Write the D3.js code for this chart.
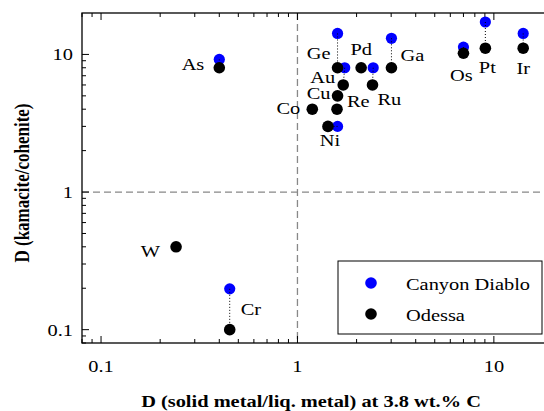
<!DOCTYPE html>
<html>
<head>
<meta charset="utf-8">
<script src="https://cdn.jsdelivr.net/npm/d3@7"></script>
<style>
  body { margin: 0; background: #fff; }
  svg { display: block; font-family: "Liberation Serif", "Times New Roman", serif; }
</style>
</head>
<body>
<svg id="chart" width="544" height="411"></svg>
<script>
// elements and partition coefficients
const elements = ["As", "Ge", "Pd", "Ga", "Au", "Cu", "Re", "Ru", "Co", "Ni", "Os", "Pt", "Ir", "W", "Cr"];
// D (solid metal / liq. metal) at 3.8 wt.% C
const xOdessa = [0.40, 1.60, 2.11, 3.01, 1.71, 1.60, 1.59, 2.41, 1.19, 1.43, 7.0, 9.05, 14.1, 0.241, 0.452];
const xCanyon = [0.40, 1.60, null, 3.01, 1.74, null, null, 2.43, null, 1.60, 7.0, 9.05, 14.1, null, 0.452];
// D (kamacite / cohenite)
const yOdessa = [8.0, 8.0, 8.0, 8.0, 6.0, 5.0, 4.0, 6.0, 4.0, 3.0, 10.2, 11.1, 11.1, 0.40, 0.10];
const yCanyon = [9.2, 14.2, null, 13.1, 8.0, null, null, 8.0, null, 3.0, 11.3, 17.2, 14.2, null, 0.198];

const seriesNames = ["Canyon Diablo", "Odessa"];
const seriesColors = ["#0000ff", "#000000"];

// label placement relative to Odessa point: [anchor, dx, dy]
const labelPos = {
  As: ["end", -15, 2], Ge: ["end", -7, -9], Pd: ["middle", 0, -13], Ga: ["start", 9, -7],
  Au: ["end", -8, -2], Cu: ["end", -7, 3], Re: ["start", 10, -2], Ru: ["start", 5, 20],
  Co: ["end", -12, 5], Ni: ["middle", 2, 20], Os: ["middle", -2, 28], Pt: ["middle", 2, 25],
  Ir: ["middle", 0, 26], W: ["end", -16, 10], Cr: ["start", 11, -15]
};

const svg = d3.select("#chart");
const sx = 1.2; // horizontal stretch of text in the original

const mLeft = 82, mTop = 13, mBottom = 343, mRight = 553;
const x = d3.scaleLog().domain([0.08, 20]).range([mLeft, mRight]);
const y = d3.scaleLog().domain([0.08, 20]).range([mBottom, mTop]);

function label(g, tx, ty, str, anchor, size, weight) {
  g.append("text")
    .attr("transform", `translate(${tx},${ty}) scale(${sx},1)`)
    .attr("text-anchor", anchor)
    .attr("font-size", size)
    .attr("font-weight", weight || "normal")
    .attr("fill", "#000")
    .text(str);
}

// dashed reference lines at D = 1
svg.append("line").attr("x1", x(1)).attr("x2", x(1)).attr("y1", mTop).attr("y2", mBottom)
  .attr("stroke", "#888").attr("stroke-width", 1.3).attr("stroke-dasharray", "7,4");
svg.append("line").attr("x1", mLeft).attr("x2", mRight).attr("y1", y(1)).attr("y2", y(1))
  .attr("stroke", "#888").attr("stroke-width", 1.3).attr("stroke-dasharray", "7,4");

// ticks
const major = [0.1, 1, 10];
const minor = [];
[0.01, 0.1, 1, 10].forEach(d => { for (let k = 2; k <= 9; k++) minor.push(d * k); });
const xMinor = minor.filter(v => v >= 0.08 && v <= 20);
const yMinor = minor.filter(v => v >= 0.08 && v < 20);

const ticks = svg.append("g").attr("stroke", "#000").attr("stroke-width", 1);
major.forEach(v => {
  ticks.append("line").attr("x1", x(v)).attr("x2", x(v)).attr("y1", mBottom).attr("y2", mBottom - 7);
  ticks.append("line").attr("x1", x(v)).attr("x2", x(v)).attr("y1", mTop).attr("y2", mTop + 7);
  ticks.append("line").attr("x1", mLeft).attr("x2", mLeft + 7).attr("y1", y(v)).attr("y2", y(v));
});
xMinor.forEach(v => {
  ticks.append("line").attr("x1", x(v)).attr("x2", x(v)).attr("y1", mBottom).attr("y2", mBottom - 4);
  ticks.append("line").attr("x1", x(v)).attr("x2", x(v)).attr("y1", mTop).attr("y2", mTop + 4);
});
yMinor.forEach(v => {
  ticks.append("line").attr("x1", mLeft).attr("x2", mLeft + 4).attr("y1", y(v)).attr("y2", y(v));
});

// frame
svg.append("rect").attr("x", mLeft).attr("y", mTop).attr("width", mRight - mLeft).attr("height", mBottom - mTop)
  .attr("fill", "none").attr("stroke", "#000").attr("stroke-width", 1.3);

// tick labels
const fmt = v => v < 1 ? "0.1" : String(v);
const tl = svg.append("g");
major.forEach(v => {
  label(tl, x(v), 372, fmt(v), "middle", 17);
  label(tl, mLeft - 9, y(v) + 6, fmt(v), "end", 17);
});

// axis titles
label(svg, 311, 407, "D (solid metal/liq. metal) at 3.8 wt.% C", "middle", 17, "bold");
svg.append("text")
  .attr("transform", `translate(29,${(mTop + mBottom) / 2 + 5}) scale(${sx},1) rotate(-90)`)
  .attr("text-anchor", "middle").attr("font-size", 17).attr("font-weight", "bold")
  .text("D (kamacite/cohenite)");

// data
const rows = elements.map((e, i) => ({
  el: e, xc: xCanyon[i], yc: yCanyon[i], xo: xOdessa[i], yo: yOdessa[i]
}));

svg.append("g").selectAll("circle")
  .data(rows.filter(d => d.yc != null))
  .join("circle")
  .attr("cx", d => x(d.xc)).attr("cy", d => y(d.yc)).attr("r", 5.6)
  .attr("fill", seriesColors[0]);

svg.append("g").selectAll("line")
  .data(rows.filter(d => d.yc != null))
  .join("line")
  .attr("x1", d => x(d.xc)).attr("y1", d => y(d.yc))
  .attr("x2", d => x(d.xo)).attr("y2", d => y(d.yo))
  .attr("stroke", "#000").attr("stroke-width", 1).attr("stroke-dasharray", "1,2");

svg.append("g").selectAll("circle")
  .data(rows)
  .join("circle")
  .attr("cx", d => x(d.xo)).attr("cy", d => y(d.yo)).attr("r", 5.8)
  .attr("fill", seriesColors[1]);

const lg = svg.append("g");
rows.forEach(d => {
  const p = labelPos[d.el];
  label(lg, x(d.xo) + p[1], y(d.yo) + p[2], d.el, p[0], 17);
});

// legend
const leg = svg.append("g");
leg.append("rect").attr("x", 338).attr("y", 261).attr("width", 204).attr("height", 73)
  .attr("fill", "#fff").attr("stroke", "#000").attr("stroke-width", 1);
seriesNames.forEach((s, i) => {
  const cy = 283 + i * 31;
  leg.append("circle").attr("cx", 371).attr("cy", cy).attr("r", 5.8).attr("fill", seriesColors[i]);
  label(leg, 406, cy + 7, s, "start", 17);
});
</script>
</body>
</html>
